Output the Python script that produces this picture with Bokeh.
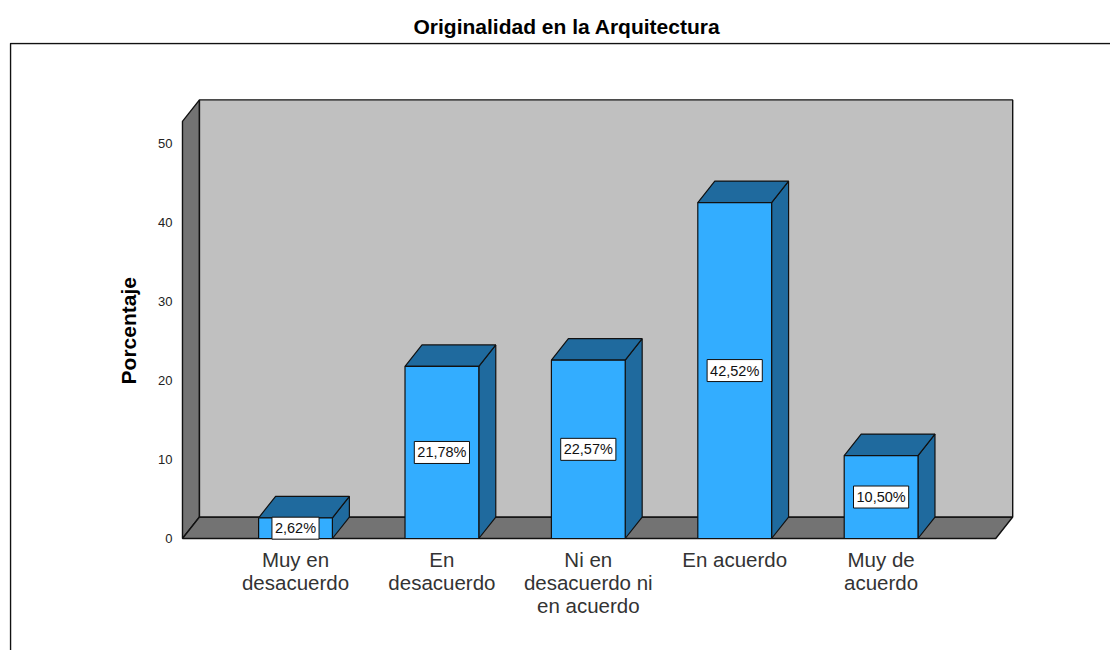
from math import pi
from bokeh.plotting import figure
from bokeh.models import FixedTicker, ColumnDataSource, Range1d, Title
from bokeh.core.properties import value
from bokeh.embed import file_html
from bokeh.resources import INLINE

categories = ["Muy en\ndesacuerdo", "En\ndesacuerdo", "Ni en\ndesacuerdo ni\nen acuerdo", "En acuerdo", "Muy de\nacuerdo"]
values = [2.62, 21.78, 22.57, 42.52, 10.50]
labels = ["2,62%", "21,78%", "22,57%", "42,52%", "10,50%"]
y_ticks = [0, 10, 20, 30, 40, 50]
title_text = "Originalidad en la Arquitectura"
y_title = "Porcentaje"

FONT = "Liberation Sans"
BAR, DARK = "#33adff", "#1f6a9e"
WALL, SIDE = "#c0c0c0", "#737373"
EDGE = "#111111"
BW = 0.252
DX, DY = 0.116, 2.72
WALL_TOP = 52.8
X0, X1 = -0.772, 4.783
XMIN, XMAX = -1.9536, 5.567
YMIN, YMAX = -14.177, 62.785
FRAME_X, FRAME_Y = -1.9468, 62.658

p = figure(width=1110, height=650, output_backend="svg", toolbar_location=None,
           x_range=Range1d(XMIN, XMAX), y_range=Range1d(YMIN, YMAX),
           min_border_left=9, min_border_right=0, min_border_top=42, min_border_bottom=0,
           background_fill_color="white", border_fill_color="white", outline_line_color=None)
p.grid.visible = False

# outer frame, open at the right and the bottom
p.line([FRAME_X, FRAME_X, XMAX], [YMIN, FRAME_Y, FRAME_Y], line_color=EDGE, line_width=1.5)

# walls and floor
p.patch([X0, X0 + DX, X0 + DX, X0], [0, DY, WALL_TOP + DY, WALL_TOP], fill_color=SIDE, line_color=EDGE, line_width=1.4)
p.patch([X0, X0 + DX, X1 + DX, X1], [0, DY, DY, 0], fill_color=SIDE, line_color=EDGE, line_width=1.4)
p.patch([X0 + DX, X1 + DX, X1 + DX, X0 + DX], [DY, DY, WALL_TOP + DY, WALL_TOP + DY],
        fill_color=WALL, line_color=EDGE, line_width=1.4)

# bars
xs = list(range(len(values)))
for x, v in zip(xs, values):
    p.patch([x + BW, x + BW + DX, x + BW + DX, x + BW], [0, DY, v + DY, v], fill_color=DARK, line_color=EDGE, line_width=1.2)
    p.patch([x - BW, x - BW + DX, x + BW + DX, x + BW], [v, v + DY, v + DY, v], fill_color=DARK, line_color=EDGE, line_width=1.2)
p.vbar(x=xs, top=values, bottom=0, width=2 * BW, fill_color=BAR, line_color=EDGE, line_width=1.2)

# value labels
src = ColumnDataSource(dict(x=xs, y=[v / 2 for v in values], t=labels))
p.text(x="x", y="y", text="t", source=src, text_font=value(FONT), text_font_size="14.5px",
       text_align="center", text_baseline="middle", text_color="#111111",
       background_fill_color="white", border_line_color="#111111", padding=3)

# y title, placed beside the wall
p.text(x=[-1.14], y=[26.3], text=[y_title], angle=pi / 2, text_font=value(FONT), text_font_style="bold",
       text_font_size="21px", text_align="center", text_baseline="middle", text_color="black")

# axes, fixed at the corner of the floor
p.xaxis.fixed_location = 0
p.xaxis.ticker = FixedTicker(ticks=xs)
p.xaxis.major_label_overrides = {x: c for x, c in zip(xs, categories)}
p.xaxis.major_label_text_font = FONT
p.xaxis.major_label_text_font_size = "20.5px"
p.xaxis.major_label_text_line_height = 1.0
p.xaxis.major_label_text_color = "#333333"
p.xaxis.major_label_standoff = 3
p.xaxis.axis_line_color = None
p.xaxis.major_tick_line_color = None
p.xaxis.minor_tick_line_color = None

p.yaxis.fixed_location = X0
p.yaxis.ticker = FixedTicker(ticks=y_ticks)
p.yaxis.major_label_text_font = FONT
p.yaxis.major_label_text_font_size = "13px"
p.yaxis.major_label_text_color = "#222222"
p.yaxis.major_label_standoff = 4
p.yaxis.axis_line_color = None
p.yaxis.major_tick_line_color = None
p.yaxis.minor_tick_line_color = None

p.add_layout(Title(text=title_text, align="left", offset=404, text_font=FONT, text_font_style="bold",
                   text_font_size="21px", text_color="black"), "above")

open("out.html", "w").write(file_html(p, INLINE))
